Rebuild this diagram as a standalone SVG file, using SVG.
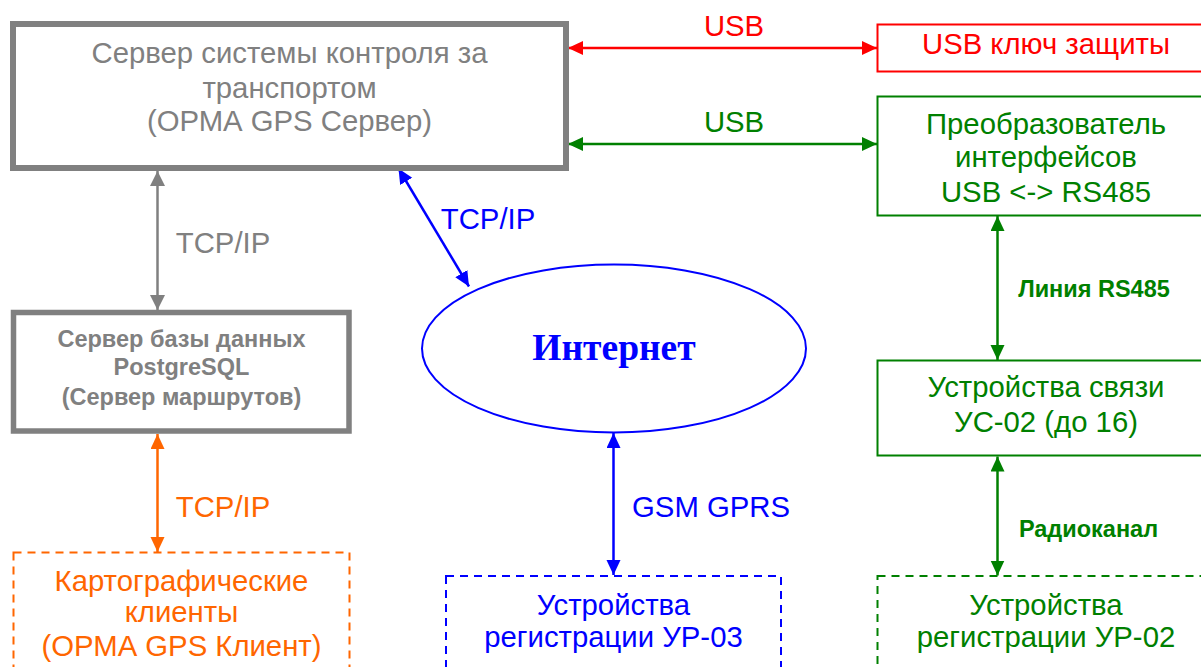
<svg xmlns="http://www.w3.org/2000/svg" width="1201" height="667" viewBox="0 0 1201 667">
<style>
text{font-family:"Liberation Sans",Arial,sans-serif;font-size:29.3px;text-anchor:middle}
.b{font-weight:bold;font-size:23.5px}
.gray{fill:#808080}.red{fill:#FF0000}.green{fill:#008000}.blue{fill:#0000FF}.orange{fill:#FF6600}
.box{fill:#FFFFFF}
.c{fill:none;stroke-width:2.5}
</style>
<defs>
<marker id="mGray" markerUnits="userSpaceOnUse" markerWidth="16" markerHeight="16" refX="15" refY="7.5" orient="auto-start-reverse"><path d="M0,0 L15,7.5 L0,15 Z" fill="#808080"/></marker>
<marker id="mRed" markerUnits="userSpaceOnUse" markerWidth="16" markerHeight="16" refX="15" refY="7" orient="auto-start-reverse"><path d="M0,0 L15,7 L0,14 Z" fill="#FF0000"/></marker>
<marker id="mGreen" markerUnits="userSpaceOnUse" markerWidth="16" markerHeight="16" refX="15" refY="7" orient="auto-start-reverse"><path d="M0,0 L15,7 L0,14 Z" fill="#008000"/></marker>
<marker id="mBlue" markerUnits="userSpaceOnUse" markerWidth="16" markerHeight="16" refX="15" refY="7" orient="auto-start-reverse"><path d="M0,0 L15,7 L0,14 Z" fill="#0000FF"/></marker>
<marker id="mOrange" markerUnits="userSpaceOnUse" markerWidth="16" markerHeight="16" refX="15" refY="7" orient="auto-start-reverse"><path d="M0,0 L15,7 L0,14 Z" fill="#FF6600"/></marker>
</defs>
<rect width="1201" height="667" fill="#FFFFFF"/>

<g id="connectors">
<line class="c" x1="568" y1="48" x2="877" y2="48" stroke="#FF0000" marker-start="url(#mRed)" marker-end="url(#mRed)"/>
<text class="red" x="734" y="36">USB</text>
<line class="c" x1="568" y1="144" x2="877" y2="144" stroke="#008000" marker-start="url(#mGreen)" marker-end="url(#mGreen)"/>
<text class="green" x="734" y="132">USB</text>
<line class="c" x1="157.5" y1="171" x2="157.5" y2="310" stroke="#808080" marker-start="url(#mGray)" marker-end="url(#mGray)"/>
<text class="gray" x="223" y="253">TCP/IP</text>
<line class="c" x1="157.5" y1="434" x2="157.5" y2="552" stroke="#FF6600" marker-start="url(#mOrange)" marker-end="url(#mOrange)"/>
<text class="orange" x="223" y="517">TCP/IP</text>
<line class="c" x1="398.5" y1="168.5" x2="469" y2="286.5" stroke="#0000FF" marker-start="url(#mBlue)" marker-end="url(#mBlue)"/>
<text class="blue" x="488" y="229">TCP/IP</text>
<line class="c" x1="613.5" y1="433" x2="613.5" y2="575" stroke="#0000FF" marker-start="url(#mBlue)" marker-end="url(#mBlue)"/>
<text class="blue" x="711" y="517">GSM GPRS</text>
<line class="c" x1="997.5" y1="216" x2="997.5" y2="360" stroke="#008000" marker-start="url(#mGreen)" marker-end="url(#mGreen)"/>
<text class="green b" x="1094" y="297">Линия RS485</text>
<line class="c" x1="997.5" y1="456.5" x2="997.5" y2="575.5" stroke="#008000" marker-start="url(#mGreen)" marker-end="url(#mGreen)"/>
<text class="green b" x="1088.5" y="537">Радиоканал</text>
</g>

<g id="server">
<rect class="box" x="13" y="24" width="553" height="144" stroke="#808080" stroke-width="6"/>
<text class="gray" x="289.5" y="63">Сервер системы контроля за</text>
<text class="gray" x="289.5" y="97.5">транспортом</text>
<text class="gray" x="289.5" y="131">(ОРМА GPS Сервер)</text>
</g>

<g id="usbkey">
<rect class="box" x="877.5" y="24.5" width="340" height="47" stroke="#FF0000" stroke-width="2"/>
<text class="red" x="1046" y="53.5">USB ключ защиты</text>
</g>

<g id="converter">
<rect class="box" x="877.5" y="96.5" width="340" height="119" stroke="#008000" stroke-width="2"/>
<text class="green" x="1046" y="133.5">Преобразователь</text>
<text class="green" x="1046" y="167">интерфейсов</text>
<text class="green" x="1046" y="201.5">USB &lt;-&gt; RS485</text>
</g>

<g id="db">
<rect class="box" x="13.5" y="312.5" width="335.5" height="118.5" stroke="#808080" stroke-width="5.5"/>
<text class="gray b" x="181.5" y="346.5">Сервер базы данных</text>
<text class="gray b" x="181.5" y="375">PostgreSQL</text>
<text class="gray b" x="181.5" y="405">(Сервер маршрутов)</text>
</g>

<g id="internet">
<ellipse cx="614" cy="348.5" rx="192" ry="84" fill="#FFFFFF" stroke="#0000FF" stroke-width="2"/>
<text x="614" y="360" style="font-family:'Liberation Serif','Times New Roman',serif;font-weight:bold;font-size:37.5px;fill:#0000FF">Интернет</text>
</g>

<g id="clients">
<rect class="box" x="13.5" y="552.5" width="336" height="130" stroke="#FF6600" stroke-width="2" stroke-dasharray="8,6"/>
<text class="orange" x="181.5" y="591">Картографические</text>
<text class="orange" x="181.5" y="622">клиенты</text>
<text class="orange" x="181.5" y="656">(ОРМА GPS Клиент)</text>
</g>

<g id="ur03">
<rect class="box" x="446" y="576" width="335" height="110" stroke="#0000FF" stroke-width="2" stroke-dasharray="8,6"/>
<text class="blue" x="613.5" y="614.5">Устройства</text>
<text class="blue" x="613.5" y="647">регистрации УР-03</text>
</g>

<g id="us02">
<rect class="box" x="877.5" y="360.5" width="340" height="95" stroke="#008000" stroke-width="2"/>
<text class="green" x="1046" y="397">Устройства связи</text>
<text class="green" x="1046" y="431.5">УС-02 (до 16)</text>
</g>

<g id="ur02">
<rect class="box" x="877.5" y="576" width="340" height="110" stroke="#008000" stroke-width="2" stroke-dasharray="8,6"/>
<text class="green" x="1046" y="614.5">Устройства</text>
<text class="green" x="1046" y="647">регистрации УР-02</text>
</g>
</svg>
